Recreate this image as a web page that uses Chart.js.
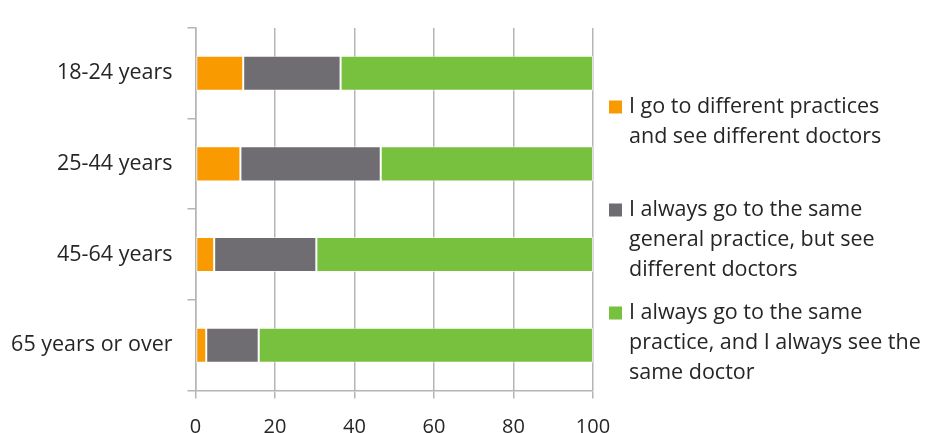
<!DOCTYPE html>
<html>
<head>
<meta charset="utf-8">
<script src="https://cdn.jsdelivr.net/npm/chart.js@4/dist/chart.umd.min.js"></script>
<style>
    html, body { margin: 0; padding: 0; background: #fff; }
    #wrap { width: 925px; height: 433px; position: relative; }
</style>
</head>
<body>
<div id="wrap"><canvas id="canvas-diagramme"></canvas></div>
<script>
'use strict';

/* global Chart */

// Données (pourcentages)
const categories = ['18-24 years', '25-44 years', '45-64 years', '65 years or over'];
const seriesLabels = [
    ['I go to different practices', 'and see different doctors'],
    ['I always go to the same', 'general practice, but see', 'different doctors'],
    ['I always go to the same', 'practice, and I always see the', 'same doctor']
];
const differentPractices = [12.0, 11.3, 4.7, 2.7];
const samePracticeDiffDoctors = [24.5, 35.3, 25.7, 13.2];
const samePracticeSameDoctor = [63.5, 53.4, 69.6, 84.1];
const xTicks = [0, 20, 40, 60, 80, 100];

const couleurs = ['#F99A00', '#6F6D72', '#78C13F'];
const police = '"Open Sans", sans-serif';
const couleurTexte = '#262626';
const couleurGrille = '#B5B5B5';

// Légende dessinée à droite, à la manière d'Excel
const legendeDroite = {
    id: 'legendeDroite',
    afterDraw(chart) {
        const ctx = chart.ctx;
        const x0 = 609;
        const ys = [107, 210, 313];
        ctx.save();
        ctx.font = '21.5px ' + police;
        ctx.textBaseline = 'middle';
        ctx.textAlign = 'left';
        chart.data.datasets.forEach(function (ds, i) {
            ctx.fillStyle = ds.backgroundColor;
            ctx.fillRect(x0, ys[i] - 6.5, 13, 13);
            ctx.fillStyle = couleurTexte;
            ds.legendLines.forEach(function (ligne, j) {
                ctx.fillText(ligne, x0 + 20, ys[i] + j * 30);
            });
        });
        ctx.restore();
    }
};

document.addEventListener('DOMContentLoaded', function () {
    const ctx = document.getElementById('canvas-diagramme').getContext('2d');
    const series = [differentPractices, samePracticeDiffDoctors, samePracticeSameDoctor];

    const dataChartJs = {
        labels: categories,
        datasets: series.map(function (valeurs, i) {
            return {
                label: seriesLabels[i].join(' '),
                legendLines: seriesLabels[i],
                data: valeurs,
                backgroundColor: couleurs[i],
                borderColor: 'rgba(255,255,255,0.6)',
                borderWidth: 1,
                borderSkipped: false,
                barPercentage: 0.387,
                categoryPercentage: 1
            };
        })
    };

    const optionsChartJs = {
        indexAxis: 'y',
        responsive: true,
        maintainAspectRatio: false,
        animation: false,
        layout: { padding: { left: 0, right: 332, top: 13, bottom: 0 } },
        plugins: {
            legend: { display: false },
            tooltip: { enabled: false }
        },
        scales: {
            x: {
                stacked: true,
                min: 0,
                max: 100,
                afterBuildTicks: function (scale) {
                    scale.ticks = xTicks.map(function (v) { return { value: v }; });
                },
                afterFit: function (scale) { scale.height = 42.5; },
                grid: { color: couleurGrille, lineWidth: 1.5, tickLength: 8 },
                border: { color: couleurGrille, width: 1.5 },
                ticks: { color: couleurTexte, font: { family: police, size: 20 }, padding: 17 }
            },
            y: {
                stacked: true,
                afterFit: function (scale) { scale.width = 195.5; },
                grid: { drawOnChartArea: false, color: couleurGrille, lineWidth: 1.5, tickLength: 8, offset: true },
                border: { color: couleurGrille, width: 1.5 },
                ticks: { color: couleurTexte, font: { family: police, size: 21.5 }, padding: 15 }
            }
        }
    };

    // eslint-disable-next-line no-unused-vars
    let diagChartJs = new Chart(ctx, {
        type: 'bar',
        data: dataChartJs,
        options: optionsChartJs,
        plugins: [legendeDroite]
    });
});
</script>
</body>
</html>
